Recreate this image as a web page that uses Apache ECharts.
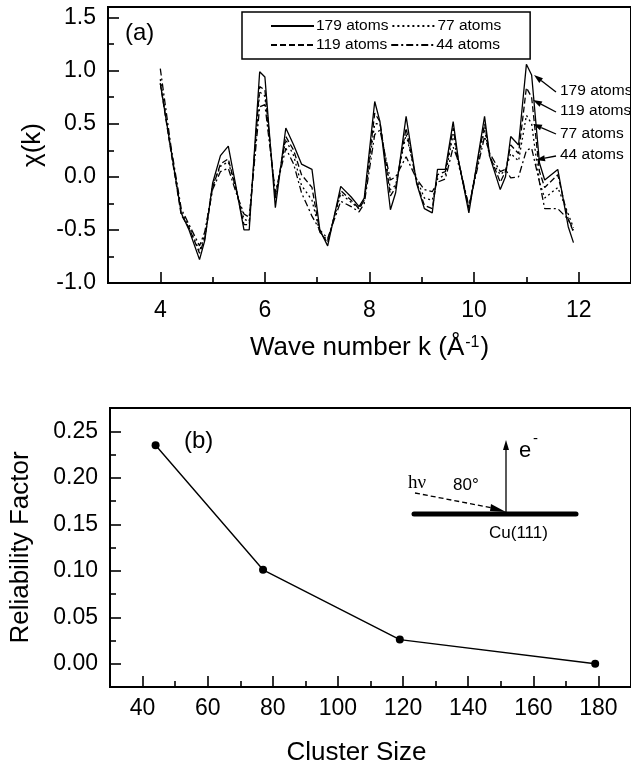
<!DOCTYPE html>
<html>
<head>
<meta charset="utf-8">
<script src="https://cdn.jsdelivr.net/npm/echarts@6/dist/echarts.min.js"></script>
<style>
html,body{margin:0;padding:0;background:#fff;}
#chart{width:631px;height:770px;}
</style>
</head>
<body>
<div id="chart"></div>
<script>
// ---------- Panel (a): chi(k) ----------
var kValues = [4.0, 4.2, 4.4, 4.55, 4.75, 4.85, 5.0, 5.15, 5.3, 5.45, 5.6, 5.7, 5.9, 6.0, 6.2, 6.4, 6.55, 6.7, 6.9, 7.05,
  7.2, 7.45, 7.65, 7.8, 7.9, 8.1, 8.2, 8.4, 8.5, 8.7, 8.9, 9.05, 9.2, 9.3, 9.45, 9.6, 9.7, 9.9, 10.2, 10.3,
  10.5, 10.6, 10.7, 10.85, 11.0, 11.1, 11.25, 11.35, 11.6, 11.8, 11.9];
var chi179 = [0.88, 0.27, -0.34, -0.50, -0.78, -0.60, -0.06, 0.20, 0.29, -0.10, -0.50, -0.50, 0.99, 0.94, -0.29, 0.46, 0.30, 0.12, 0.07, -0.50,
  -0.65, -0.09, -0.19, -0.28, -0.20, 0.71, 0.52, -0.31, -0.15, 0.57, -0.06, -0.30, -0.34, 0.07, 0.07, 0.52, 0.16, -0.34, 0.57, 0.19,
  -0.12, 0.00, 0.38, 0.30, 1.06, 0.96, 0.13, -0.03, 0.07, -0.47, -0.62];
var chi119 = [0.88, 0.25, -0.36, -0.48, -0.72, -0.58, -0.10, 0.12, 0.17, -0.12, -0.45, -0.45, 0.85, 0.82, -0.20, 0.38, 0.25, 0.02, -0.10, -0.52,
  -0.62, -0.13, -0.22, -0.30, -0.22, 0.60, 0.52, -0.18, -0.10, 0.46, -0.05, -0.27, -0.30, 0.02, 0.05, 0.46, 0.15, -0.30, 0.50, 0.20,
  -0.05, 0.05, 0.30, 0.22, 0.84, 0.75, 0.05, -0.10, 0.02, -0.40, -0.52];
var chi77 = [0.92, 0.26, -0.33, -0.47, -0.70, -0.55, -0.08, 0.10, 0.14, -0.12, -0.40, -0.42, 0.80, 0.76, -0.18, 0.35, 0.20, -0.08, -0.22, -0.52,
  -0.60, -0.16, -0.24, -0.30, -0.22, 0.50, 0.50, -0.12, -0.08, 0.40, -0.02, -0.20, -0.22, -0.02, 0.02, 0.40, 0.12, -0.28, 0.45, 0.18,
  0.02, 0.06, 0.22, 0.15, 0.58, 0.50, -0.05, -0.20, -0.10, -0.35, -0.48];
var chi44 = [1.02, 0.30, -0.30, -0.45, -0.65, -0.52, -0.12, 0.05, 0.08, -0.15, -0.35, -0.38, 0.66, 0.68, -0.15, 0.27, 0.12, -0.15, -0.37, -0.50,
  -0.58, -0.23, -0.28, -0.33, -0.25, 0.40, 0.44, -0.03, 0.00, 0.19, -0.02, -0.12, -0.14, -0.05, -0.02, 0.28, 0.15, -0.28, 0.38, 0.22,
  0.05, 0.07, -0.01, 0.00, 0.25, 0.27, -0.05, -0.30, -0.30, -0.40, -0.50];
var seriesNames = ['179 atoms', '77 atoms', '119 atoms', '44 atoms'];
var topXTicks = [4, 6, 8, 10, 12];
var topXMinor = [5, 7, 9, 11];
var topYTicks = [-1.0, -0.5, 0.0, 0.5, 1.0, 1.5];
var topYMinor = [-0.75, -0.25, 0.25, 0.75, 1.25];

// ---------- Panel (b): reliability factor ----------
var clusterSizes = [44, 77, 119, 179];
var rFactors = [0.235, 0.101, 0.026, 0.000];
var botXTicks = [40, 60, 80, 100, 120, 140, 160, 180];
var botXMinor = [50, 70, 90, 110, 130, 150, 170];
var botYTicks = [0.00, 0.05, 0.10, 0.15, 0.20, 0.25];
var botYMinor = [0.025, 0.075, 0.125, 0.175, 0.225];

var FONT = '"Liberation Sans", Arial, sans-serif';
var chart = echarts.init(document.getElementById('chart'), null, {renderer: 'canvas'});

function zip(xs, ys) { return xs.map(function (x, i) { return [x, ys[i]]; }); }

function mainAxis(extra) {
  var base = {
    type: 'value',
    axisLine: {show: true, onZero: false, lineStyle: {color: '#000', width: 2}},
    axisTick: {show: true, inside: true, length: 11, lineStyle: {color: '#000', width: 1.6}},
    axisLabel: {color: '#000', fontFamily: FONT, fontSize: 23},
    splitLine: {show: false},
    nameTextStyle: {color: '#000', fontFamily: FONT, fontSize: 26}
  };
  for (var key in extra) base[key] = extra[key];
  return base;
}
function minorAxis(extra) {
  var base = {
    type: 'value',
    axisLine: {show: false, onZero: false},
    axisTick: {show: true, inside: true, length: 6, lineStyle: {color: '#000', width: 1.6}},
    axisLabel: {show: false},
    splitLine: {show: false}
  };
  for (var key in extra) base[key] = extra[key];
  return base;
}

function arrow(x1, y1, x2, y2, headLen, headW, lw) {
  var dx = x2 - x1, dy = y2 - y1, L = Math.sqrt(dx * dx + dy * dy);
  var ux = dx / L, uy = dy / L;
  var bx = x2 - ux * headLen, by = y2 - uy * headLen;
  return [
    {type: 'line', shape: {x1: x1, y1: y1, x2: bx, y2: by}, style: {stroke: '#000', lineWidth: lw}, z: 100},
    {type: 'polygon', shape: {points: [[x2, y2], [bx - uy * headW / 2, by + ux * headW / 2], [bx + uy * headW / 2, by - ux * headW / 2]]},
      style: {fill: '#000'}, z: 100}
  ];
}

var graphics = [
  {type: 'text', left: 125, top: 21, style: {text: '(a)', font: '24px ' + FONT, fill: '#000'}, z: 100},
  {type: 'text', left: 184, top: 429, style: {text: '(b)', font: '24px ' + FONT, fill: '#000'}, z: 100},
  // right-hand labels of panel (a)
  {type: 'text', left: 560, top: 83, style: {text: '179 atoms', font: '15.5px ' + FONT, fill: '#000'}, z: 100},
  {type: 'text', left: 560, top: 103, style: {text: '119 atoms', font: '15.5px ' + FONT, fill: '#000'}, z: 100},
  {type: 'text', left: 560, top: 126, style: {text: '77 atoms', font: '15.5px ' + FONT, fill: '#000'}, z: 100},
  {type: 'text', left: 560, top: 147, style: {text: '44 atoms', font: '15.5px ' + FONT, fill: '#000'}, z: 100},
  // inset of panel (b)
  {type: 'line', shape: {x1: 414, y1: 514, x2: 576, y2: 514}, style: {stroke: '#000', lineWidth: 5, lineCap: 'round'}, z: 100},
  {type: 'line', shape: {x1: 415, y1: 493, x2: 493, y2: 508}, style: {stroke: '#000', lineWidth: 1.3, lineDash: [5, 3]}, z: 100},
  {type: 'polygon', shape: {points: [[506, 512], [491, 504], [490, 511]]}, style: {fill: '#000'}, z: 100},
  {type: 'text', left: 519, top: 440, style: {text: 'e', font: '22px ' + FONT, fill: '#000'}, z: 100},
  {type: 'text', left: 533, top: 431, style: {text: '-', font: '15px ' + FONT, fill: '#000'}, z: 100},
  {type: 'text', left: 408, top: 474, style: {text: 'hν', font: '19px "Liberation Serif", "Times New Roman", serif', fill: '#000'}, z: 100},
  {type: 'text', left: 453, top: 477, style: {text: '80°', font: '17px ' + FONT, fill: '#000'}, z: 100},
  {type: 'text', left: 489, top: 525, style: {text: 'Cu(111)', font: '17px ' + FONT, fill: '#000', align: 'center'}, z: 100}
];
graphics = graphics
  .concat(arrow(556, 92, 534, 75, 9, 6, 1.3))
  .concat(arrow(556, 112, 533, 100, 9, 6, 1.3))
  .concat(arrow(556, 134, 533, 124, 9, 6, 1.3))
  .concat(arrow(556, 156, 536, 160, 9, 6, 1.3))
  .concat(arrow(506, 514, 506, 440, 10, 6, 1.3));

var option = {
  animation: false,
  backgroundColor: '#fff',
  grid: [
    {left: 108, top: 7, right: -2, bottom: 487, show: true, borderColor: '#000', borderWidth: 2, backgroundColor: 'transparent'},
    {left: 109, top: 408, right: -2, bottom: 83, show: true, borderColor: '#000', borderWidth: 2, backgroundColor: 'transparent'}
  ],
  legend: {
    data: seriesNames,
    left: 242, top: 12, width: 236,
    orient: 'horizontal',
    padding: [6, 29, 6, 28],
    itemGap: 3,
    itemWidth: 43, itemHeight: 12,
    borderColor: '#000', borderWidth: 1.5,
    itemStyle: {opacity: 0, borderWidth: 0},
    textStyle: {color: '#000', fontFamily: FONT, fontSize: 15.5, padding: [0, 0, 0, -3]},
    backgroundColor: '#fff'
  },
  xAxis: [
    mainAxis({gridIndex: 0, min: 3, max: 13, position: 'bottom',
      name: '{a|Wave number k (Å}{s|-1}{a|)}', nameLocation: 'middle', nameGap: 52,
      nameTextStyle: {rich: {a: {fontFamily: FONT, fontSize: 26, color: '#000'}, s: {fontFamily: FONT, fontSize: 16, color: '#000', verticalAlign: 'top', padding: [0, 1, 0, 1]}}},
      axisLabel: {color: '#000', fontFamily: FONT, fontSize: 23, margin: 16, customValues: topXTicks},
      axisTick: {show: true, inside: true, length: 11, customValues: topXTicks, lineStyle: {color: '#000', width: 1.6}}}),
    minorAxis({gridIndex: 0, min: 3, max: 13, position: 'bottom',
      axisTick: {show: true, inside: true, length: 6, customValues: topXMinor, lineStyle: {color: '#000', width: 1.6}}}),
    mainAxis({gridIndex: 1, min: 30, max: 190, position: 'bottom',
      name: 'Cluster Size', nameLocation: 'middle', nameGap: 53,
      nameTextStyle: {color: '#000', fontFamily: FONT, fontSize: 26, padding: [0, 28, 0, 0]},
      axisLabel: {color: '#000', fontFamily: FONT, fontSize: 23, margin: 10, customValues: botXTicks},
      axisTick: {show: true, inside: true, length: 11, customValues: botXTicks, lineStyle: {color: '#000', width: 1.6}}}),
    minorAxis({gridIndex: 1, min: 30, max: 190, position: 'bottom',
      axisTick: {show: true, inside: true, length: 6, customValues: botXMinor, lineStyle: {color: '#000', width: 1.6}}})
  ],
  yAxis: [
    mainAxis({gridIndex: 0, min: -1.0, max: 1.6, position: 'left',
      name: 'χ(k)', nameLocation: 'middle', nameGap: 62,
      axisLabel: {color: '#000', fontFamily: FONT, fontSize: 23, margin: 12, customValues: topYTicks,
        formatter: function (v) { return v.toFixed(1); }},
      axisTick: {show: true, inside: true, length: 11, customValues: topYTicks, lineStyle: {color: '#000', width: 1.6}}}),
    minorAxis({gridIndex: 0, min: -1.0, max: 1.6, position: 'left',
      axisTick: {show: true, inside: true, length: 6, customValues: topYMinor, lineStyle: {color: '#000', width: 1.6}}}),
    mainAxis({gridIndex: 1, min: -0.025, max: 0.275, position: 'left',
      name: 'Reliability Factor', nameLocation: 'middle', nameGap: 76,
      axisLabel: {color: '#000', fontFamily: FONT, fontSize: 23, margin: 12, customValues: botYTicks,
        formatter: function (v) { return v.toFixed(2); }},
      axisTick: {show: true, inside: true, length: 11, customValues: botYTicks, lineStyle: {color: '#000', width: 1.6}}}),
    minorAxis({gridIndex: 1, min: -0.025, max: 0.275, position: 'left',
      axisTick: {show: true, inside: true, length: 6, customValues: botYMinor, lineStyle: {color: '#000', width: 1.6}}})
  ],
  series: [
    {name: '179 atoms', type: 'line', xAxisIndex: 0, yAxisIndex: 0, data: zip(kValues, chi179), symbol: 'none',
      lineStyle: {color: '#000', width: 1.3, type: 'solid'}, itemStyle: {color: '#000'}},
    {name: '77 atoms', type: 'line', xAxisIndex: 0, yAxisIndex: 0, data: zip(kValues, chi77), symbol: 'none',
      lineStyle: {color: '#000', width: 1.3, type: [2, 3]}, itemStyle: {color: '#000'}},
    {name: '119 atoms', type: 'line', xAxisIndex: 0, yAxisIndex: 0, data: zip(kValues, chi119), symbol: 'none',
      lineStyle: {color: '#000', width: 1.3, type: [6, 3]}, itemStyle: {color: '#000'}},
    {name: '44 atoms', type: 'line', xAxisIndex: 0, yAxisIndex: 0, data: zip(kValues, chi44), symbol: 'none',
      lineStyle: {color: '#000', width: 1.3, type: [7, 3, 2, 3]}, itemStyle: {color: '#000'}},
    {name: 'R-factor', type: 'line', xAxisIndex: 2, yAxisIndex: 2, data: zip(clusterSizes, rFactors),
      symbol: 'circle', symbolSize: 8, lineStyle: {color: '#000', width: 1.4}, itemStyle: {color: '#000'}}
  ],
  graphic: graphics
};
chart.setOption(option);
</script>
</body>
</html>
